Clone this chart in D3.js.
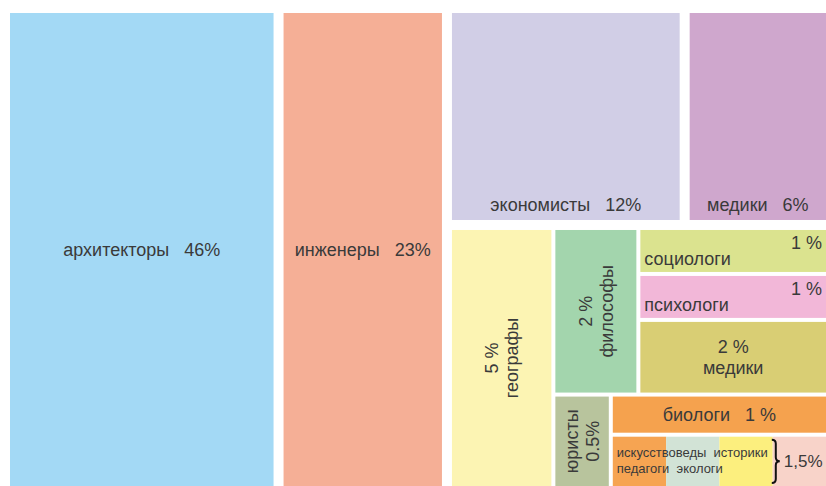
<!DOCTYPE html>
<html>
<head>
<meta charset="utf-8">
<script src="https://cdn.jsdelivr.net/npm/d3@7"></script>
<style>
  body { margin: 0; background: #fff; }
  svg { display: block; font-family: "Liberation Sans", Arial, sans-serif; }
  .lbl { fill: #3a3a3a; }
</style>
</head>
<body>
<svg id="chart" width="826" height="486"></svg>
<script>
// доли выпускников по профессиям, %
var professions = ['архитекторы', 'инженеры', 'экономисты', 'медики', 'географы', 'философы',
  'социологи', 'психологи', 'медики', 'юристы', 'биологи'];
var shares = [46, 23, 12, 6, 5, 2, 1, 1, 2, 0.5, 1];
var shareLabels = ['46%', '23%', '12%', '6%', '5 %', '2 %', '1 %', '1 %', '2 %', '0.5%', '1 %'];
var fills = ['#a3d9f5', '#f5af96', '#d1cee6', '#cfa7cd', '#fcf4b3', '#a3d5ad',
  '#dbe38f', '#f2b7d8', '#d9ce74', '#b8c49d', '#f5a24e'];

// the small ones, 1,5% together
var groupNames = ['искусствоведы', 'историки', 'педагоги', 'экологи'];
var groupShares = [0.375, 0.375, 0.375, 0.375];
var groupFills = ['#f6a452', '#d2e3d6', '#fcef7e', '#f8d3c9'];
var groupLabel = '1,5%';

// how the tiles are nested: split 'x' = side by side, 'y' = stacked
var layout = {split: 'x', gap: 10, children: [
  {leaf: 0, label: 'line'},
  {leaf: 1, label: 'line'},
  {split: 'y', gap: 10, children: [
    {split: 'x', gap: 10, children: [
      {leaf: 2, label: 'line', pos: 'bottom'},
      {leaf: 3, label: 'line', pos: 'bottom'}
    ]},
    {split: 'x', gap: 4, children: [
      {leaf: 4, label: 'rot'},
      {split: 'y', gap: 4, children: [
        {split: 'x', gap: 4, children: [
          {leaf: 5, label: 'rot'},
          {split: 'y', gap: 4, children: [
            {leaf: 6, label: 'corner'},
            {leaf: 7, label: 'corner'},
            {leaf: 8, label: 'stack'}
          ]}
        ]},
        {split: 'x', gap: 4, children: [
          {leaf: 9, label: 'rotRev'},
          {split: 'y', gap: 4, children: [
            {leaf: 10, label: 'line'},
            {group: true, split: 'x', gap: 0}
          ]}
        ]}
      ]}
    ]}
  ]}
]};

var margin = {left: 10, top: 13};
var W = 826 - margin.left, H = 486 - margin.top;

// area grows slower than the share, like on the original picture
var size = d3.scalePow().exponent(0.7).domain([0, 46]).range([0, 46]);
var groupTotal = d3.sum(groupShares);

var root = d3.hierarchy(layout, function (d) {
  return d.group ? groupShares.map(function (v, i) { return {gi: i}; }) : d.children;
}).sum(function (d) {
  if (d.leaf != null) return size(shares[d.leaf]);
  if (d.gi != null) return size(groupTotal) * groupShares[d.gi] / groupTotal;
  return 0;
});

function tile(node, x0, y0, x1, y1) {
  (node.data.split === 'y' ? d3.treemapSlice : d3.treemapDice)(node, x0, y0, x1, y1);
}

d3.treemap().size([W, H]).tile(tile)
  .paddingInner(function (d) { return d.data.gap || 0; })(root);

var svg = d3.select('#chart');
var g = svg.append('g').attr('transform', 'translate(' + margin.left + ',' + margin.top + ')');

g.selectAll('rect').data(root.leaves()).join('rect')
  .attr('x', function (d) { return d.x0; })
  .attr('y', function (d) { return d.y0; })
  .attr('width', function (d) { return d.x1 - d.x0; })
  .attr('height', function (d) { return d.y1 - d.y0; })
  .attr('fill', function (d) { return d.data.leaf != null ? fills[d.data.leaf] : groupFills[d.data.gi]; });

var labels = g.append('g');

function textWidth(sel) {
  return d3.max(sel.nodes(), function (n) { return n.getComputedTextLength(); });
}

function placeLabel(d) {
  var i = d.data.leaf, mode = d.data.label;
  var w = d.x1 - d.x0, h = d.y1 - d.y0;
  var rot = mode === 'rot' || mode === 'rotRev';
  var lines = mode === 'line' ? [professions[i] + '\u00a0\u00a0\u00a0' + shareLabels[i]]
    : mode === 'rotRev' ? [professions[i], shareLabels[i]]
    : [shareLabels[i], professions[i]];
  var aw = (rot ? h : w) - 8, ah = (rot ? w : h) - 4;
  var lead = mode === 'corner' ? 0.9 : 1.15;
  var lg = labels.append('g');
  var texts = lg.selectAll('text').data(lines).join('text')
    .attr('class', 'lbl').attr('text-anchor', 'middle')
    .text(function (t) { return t; });
  var fs = 18;
  while (fs > 8) {
    texts.attr('font-size', fs);
    if (textWidth(texts) <= aw && lines.length * fs * lead <= ah) break;
    fs -= 0.5;
  }
  texts.attr('font-size', fs);
  var n = lines.length, lh = fs * lead;
  var cx = (d.x0 + d.x1) / 2, cy = (d.y0 + d.y1) / 2;
  if (d.data.pos === 'bottom') cy = d.y1 - 9 - 0.35 * fs;
  lg.attr('transform', 'translate(' + cx + ',' + cy + ')' + (rot ? ' rotate(-90)' : ''));
  texts.attr('y', function (t, k) { return (k - (n - 1) / 2) * lh + 0.35 * fs; });
  if (mode === 'corner') {
    texts.attr('text-anchor', function (t, k) { return k === 0 ? 'end' : 'start'; })
      .attr('x', function (t, k) { return k === 0 ? w / 2 - 4 : -w / 2 + 4; });
  }
}

root.leaves().filter(function (d) { return d.data.leaf != null; }).forEach(placeLabel);

// names of the small group in two rows, a brace and the common share
var grp = root.descendants().find(function (d) { return d.data.group; });
var gh = grp.y1 - grp.y0, gw = grp.x1 - grp.x0;
var share = labels.append('text').attr('class', 'lbl').attr('font-size', 17).text(groupLabel);
var shareW = share.node().getComputedTextLength();
var bw = 8;
var rows = [groupNames.slice(0, 2).join('\u00a0\u00a0'), groupNames.slice(2).join('\u00a0\u00a0')];
var gx = grp.x0 + 4;
var gt = labels.selectAll('text.grp').data(rows).join('text')
  .attr('class', 'lbl grp').attr('x', gx)
  .text(function (t) { return t; });
var gfs = 16;
while (gfs > 8) {
  gt.attr('font-size', gfs);
  if (textWidth(gt) + 4 + bw + 4 + shareW + 4 <= gw && rows.length * gfs * 1.2 <= gh - 4) break;
  gfs -= 0.5;
}
gt.attr('font-size', gfs);
var glh = gfs * 1.2, gtop = grp.y0 + (gh - rows.length * glh) / 2;
gt.attr('y', function (t, k) { return gtop + (k + 0.5) * glh + 0.3 * gfs; });

var bx = gx + textWidth(gt) + 4, ya = grp.y0 + 3, yb = grp.y1 - 3, ym = (ya + yb) / 2, r = 4;
var p = d3.path();
p.moveTo(bx, ya);
p.quadraticCurveTo(bx + bw / 2, ya, bx + bw / 2, ya + r);
p.lineTo(bx + bw / 2, ym - r);
p.quadraticCurveTo(bx + bw / 2, ym, bx + bw, ym);
p.quadraticCurveTo(bx + bw / 2, ym, bx + bw / 2, ym + r);
p.lineTo(bx + bw / 2, yb - r);
p.quadraticCurveTo(bx + bw / 2, yb, bx, yb);
labels.append('path').attr('d', p.toString())
  .attr('fill', 'none').attr('stroke', '#111').attr('stroke-width', 2);

share.attr('x', bx + bw + 4).attr('y', ym + 0.35 * 17);
</script>
</body>
</html>
